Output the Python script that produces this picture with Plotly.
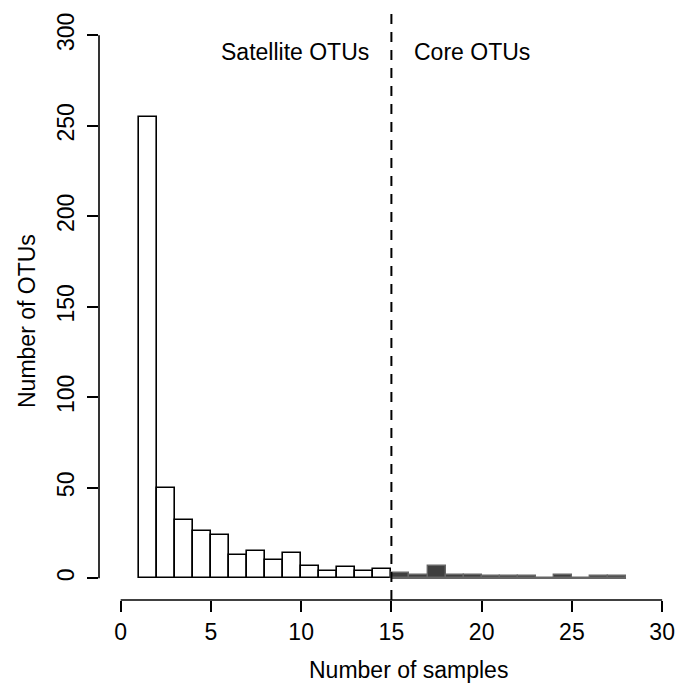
import plotly.graph_objects as go

# Data: histogram of number of samples per OTU
bin_edges = list(range(1, 29))  # 1..28
satellite_counts = [255, 50, 32, 26, 24, 13, 15, 10, 14, 7, 4, 6, 4, 5]   # bins 1-15
core_counts = [3, 2, 7, 2, 2, 1, 1, 1, 0, 2, 0, 1, 1]                     # bins 15-28
core_threshold = 15
x_ticks = [0, 5, 10, 15, 20, 25, 30]
y_ticks = [0, 50, 100, 150, 200, 250, 300]

sat_mid = [bin_edges[i] + 0.5 for i in range(len(satellite_counts))]
core_mid = [bin_edges[len(satellite_counts) + i] + 0.5 for i in range(len(core_counts))]

FONT = "Liberation Sans, Arial, Helvetica, sans-serif"

fig = go.Figure()
fig.add_trace(go.Bar(x=sat_mid, y=satellite_counts, width=1,
                     marker=dict(color="white", line=dict(color="black", width=1.6)),
                     showlegend=False, hoverinfo="skip"))
fig.add_trace(go.Bar(x=core_mid, y=core_counts, width=1,
                     marker=dict(color="#3f3f3f", line=dict(color="#666666", width=1.4)),
                     showlegend=False, hoverinfo="skip"))
# baseline of the core bins (empty bins still show their border)
fig.add_trace(go.Scatter(x=[core_threshold, bin_edges[-1]], y=[0, 0], mode="lines",
                         line=dict(color="#666666", width=1.6),
                         showlegend=False, hoverinfo="skip"))

W, H = 682, 686
L, R, T, B = 99, 0, 13, 86

fig.update_layout(
    width=W, height=H,
    margin=dict(l=L, r=R, t=T, b=B, pad=0),
    paper_bgcolor="white", plot_bgcolor="white",
    bargap=0,
    font=dict(family=FONT, size=23, color="black"),
    xaxis=dict(range=[-1.2, 31.1], tickvals=x_ticks, ticktext=[str(v) for v in x_ticks],
               ticks="outside", ticklen=11, tickwidth=1.6, tickcolor="black",
               showgrid=False, zeroline=False, showline=False,
               tickfont=dict(family=FONT, size=23, color="black")),
    yaxis=dict(range=[-12, 312.3], tickvals=y_ticks, ticktext=[str(v) for v in y_ticks],
               ticks="outside", ticklen=11, tickwidth=1.6, tickcolor="black",
               tickangle=-90, ticklabelstandoff=4,
               showgrid=False, zeroline=False, showline=False,
               tickfont=dict(family=FONT, size=23, color="black")),
    shapes=[
        # detached R-style axis lines spanning first to last tick
        dict(type="line", xref="x", yref="paper", x0=x_ticks[0], x1=x_ticks[-1], y0=0, y1=0,
             line=dict(color="black", width=1.6)),
        dict(type="line", xref="paper", yref="y", x0=0, x1=0, y0=y_ticks[0], y1=y_ticks[-1],
             line=dict(color="black", width=1.6)),
        # threshold line
        dict(type="line", xref="x", yref="paper", x0=core_threshold, x1=core_threshold, y0=0, y1=1,
             line=dict(color="black", width=2, dash="10px,8px")),
    ],
    annotations=[
        dict(text="Satellite OTUs", x=core_threshold, y=291, xref="x", yref="y",
             xanchor="right", yanchor="middle", xshift=-20, showarrow=False,
             font=dict(family=FONT, size=23)),
        dict(text="Core OTUs", x=core_threshold, y=291, xref="x", yref="y",
             xanchor="left", yanchor="middle", xshift=21, showarrow=False,
             font=dict(family=FONT, size=23)),
        dict(text="Number of samples", x=(408 - L) / (W - L - R), y=(H - B - 670) / (H - T - B),
             xref="paper", yref="paper", xanchor="center", yanchor="middle", showarrow=False,
             font=dict(family=FONT, size=23)),
        dict(text="Number of OTUs", x=(27 - L) / (W - L - R), y=(H - B - 321) / (H - T - B),
             xref="paper", yref="paper", xanchor="center", yanchor="middle", showarrow=False,
             textangle=-90, font=dict(family=FONT, size=23)),
    ],
)

fig.write_html("out.html")
